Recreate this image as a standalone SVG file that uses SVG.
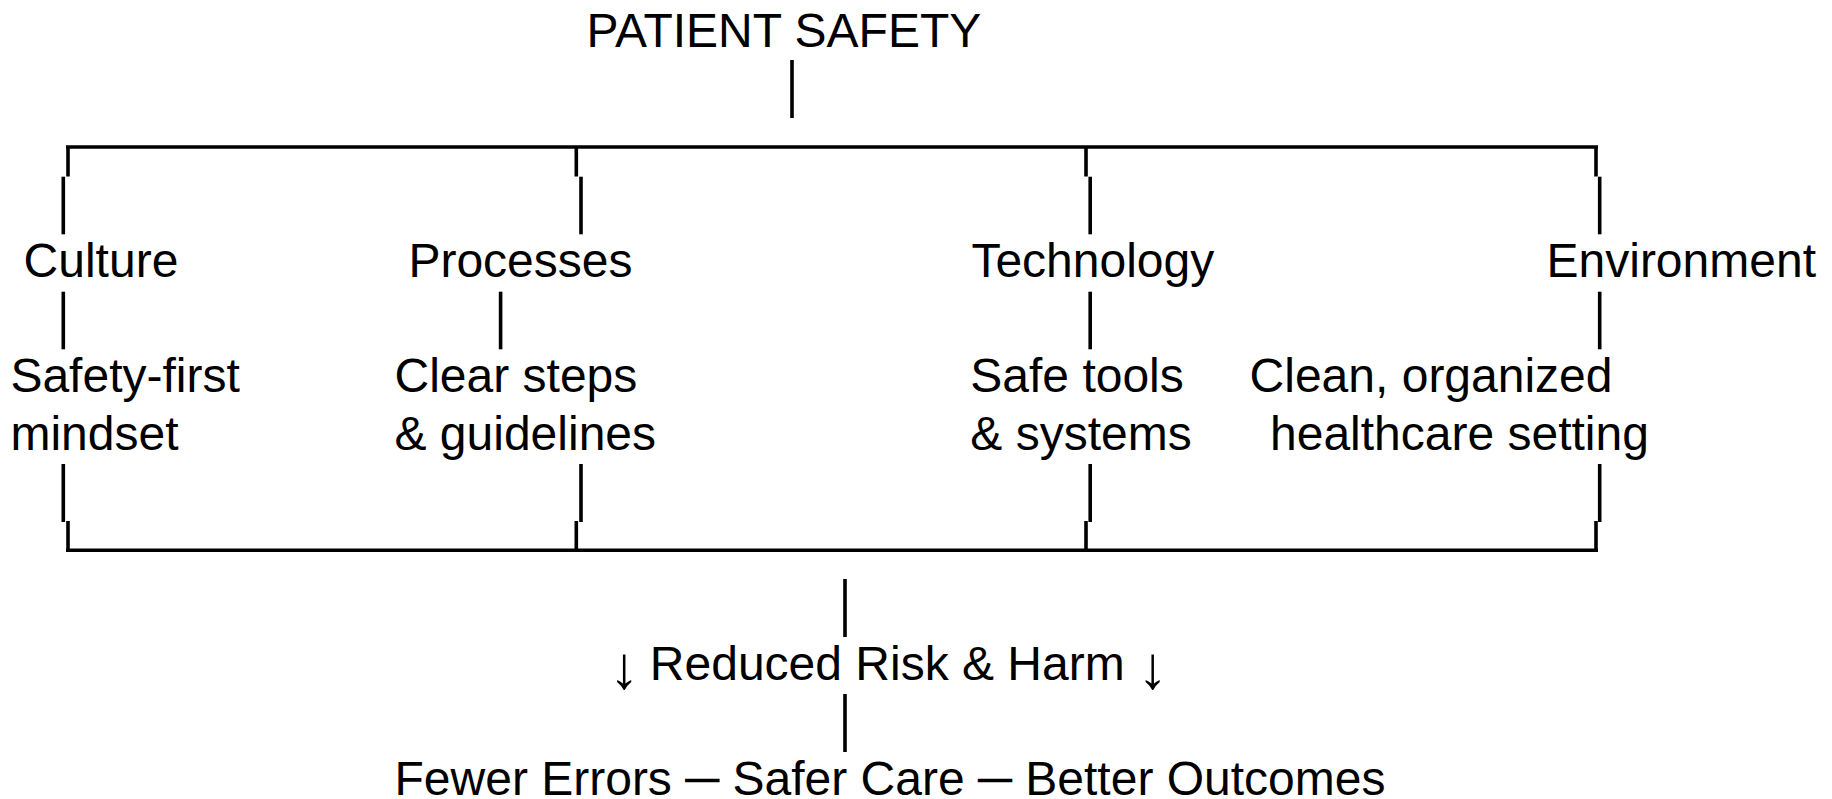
<svg xmlns="http://www.w3.org/2000/svg" width="1832" height="799" viewBox="0 0 1832 799">
<style>
text{font-family:"Liberation Sans",Arial,sans-serif;font-size:48px;fill:#000}
.arr{font-size:60px}
.c line{stroke:#000;stroke-width:3.6;stroke-linecap:butt}
</style>
<rect width="1832" height="799" fill="#fff"/>
<g class="c" id="connectors">
<line x1="792" y1="60" x2="792" y2="118"/>
<line x1="66" y1="147" x2="1598" y2="147"/>
<line x1="68" y1="147" x2="68" y2="176.5"/>
<line x1="576.3" y1="147" x2="576.3" y2="176.5"/>
<line x1="1086" y1="147" x2="1086" y2="176.5"/>
<line x1="1596" y1="147" x2="1596" y2="176.5"/>
<line x1="63.3" y1="176.7" x2="63.3" y2="234.3"/>
<line x1="581" y1="176.7" x2="581" y2="234.3"/>
<line x1="1090.2" y1="176.7" x2="1090.2" y2="234.3"/>
<line x1="1599.7" y1="176.7" x2="1599.7" y2="234.3"/>
<line x1="63.3" y1="291.7" x2="63.3" y2="349.3"/>
<line x1="500.6" y1="291.7" x2="500.6" y2="349.3"/>
<line x1="1090.2" y1="291.7" x2="1090.2" y2="349.3"/>
<line x1="1599.7" y1="291.7" x2="1599.7" y2="349.3"/>
<line x1="63.3" y1="464" x2="63.3" y2="522"/>
<line x1="581" y1="464" x2="581" y2="522"/>
<line x1="1090.2" y1="464" x2="1090.2" y2="522"/>
<line x1="1599.7" y1="464" x2="1599.7" y2="522"/>
<line x1="68" y1="521" x2="68" y2="550.3"/>
<line x1="576.3" y1="521" x2="576.3" y2="550.3"/>
<line x1="1086" y1="521" x2="1086" y2="550.3"/>
<line x1="1596" y1="521" x2="1596" y2="550.3"/>
<line x1="66" y1="550.3" x2="1598" y2="550.3"/>
<line x1="845" y1="579" x2="845" y2="637"/>
<line x1="845" y1="694" x2="845" y2="752"/>
</g>
<g id="patient-safety"><text x="586.5" y="46.5">PATIENT SAFETY</text></g>
<g id="culture"><text x="23.6" y="276.7">Culture</text><text x="10.4" y="391.9">Safety-first</text><text x="10.4" y="449.5">mindset</text></g>
<g id="processes"><text x="408.4" y="276.7">Processes</text><text x="394.5" y="391.9">Clear steps</text><text x="394.5" y="449.5">&amp; guidelines</text></g>
<g id="technology"><text x="971.4" y="276.7">Technology</text><text x="970.3" y="391.9">Safe tools</text><text x="970.3" y="449.5">&amp; systems</text></g>
<g id="environment"><text x="1546.5" y="276.7">Environment</text><text x="1249.6" y="391.9">Clean, organized</text><text x="1270" y="449.5">healthcare setting</text></g>
<g id="reduced-risk"><text y="680"><tspan class="arr" x="609" dy="7.5">↓</tspan><tspan x="636.5" dy="-7.5"> Reduced Risk &amp; Harm </tspan><tspan class="arr" x="1137.5" dy="7.5">↓</tspan></text></g>
<g id="outcomes"><text x="394.5" y="795">Fewer Errors ─ Safer Care ─ Better Outcomes</text></g>
</svg>
